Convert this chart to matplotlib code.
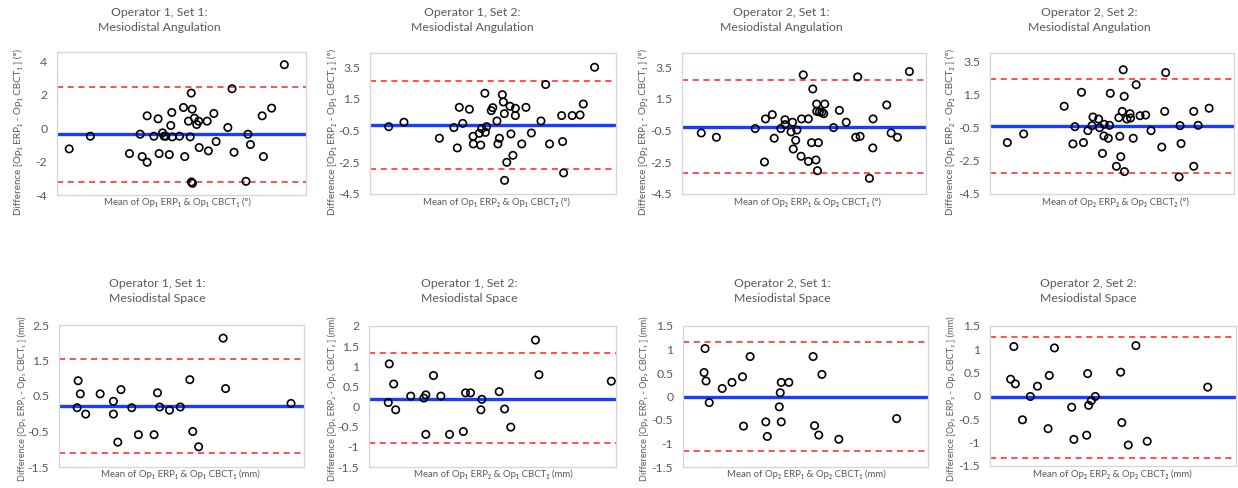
import matplotlib
matplotlib.use("Agg")
import matplotlib.pyplot as plt
from matplotlib.ticker import FuncFormatter

plt.rcParams['font.family'] = ['Lato', 'DejaVu Sans']
plt.rcParams['axes.unicode_minus'] = False

# ---------------- data (x: relative position of the mean, y: difference) ----------------
o1s1_ang_x = [4.9, 13.4, 29.1, 33.4, 34.2, 36.2, 36.2, 38.9, 40.6, 41.0, 42.4, 43.0, 43.7, 45.1, 45.7,
              46.1, 46.3, 49.2, 50.8, 51.3, 52.8, 53.5, 53.9, 54.3, 54.0, 54.4, 55.2, 56.1, 56.9, 57.1,
              60.3, 60.8, 63.0, 63.9, 68.6, 70.3, 71.1, 75.9, 76.7, 77.7, 82.4, 82.9, 86.2, 91.3]
o1s1_ang_y = [-1.24, -0.48, -1.52, -0.36, -1.70, 0.74, -2.04, -0.48, 0.56, -1.52, -0.28, -0.48, -0.48,
              -1.58, 0.16, 0.94, -0.52, -0.48, 1.24, -1.70, 0.42, -0.52, 2.10, 1.14, -3.22, -3.30, 0.60,
              0.22, 0.42, -1.16, 0.42, -1.36, 0.88, -0.80, 0.04, 2.36, -1.44, -3.18, -0.36, -0.98, 0.74,
              -1.70, 1.20, 3.80]
o1s2_ang_x = [7.6, 13.8, 28.2, 34.1, 35.5, 36.3, 37.7, 40.4, 41.9, 42.0, 44.4, 45.0, 45.4, 46.7, 46.9,
              47.4, 49.3, 49.9, 51.6, 52.0, 52.6, 53.8, 54.2, 54.6, 54.7, 55.6, 56.9, 57.3, 58.1, 59.1,
              59.1, 61.7, 63.4, 65.6, 69.5, 71.4, 73.0, 77.9, 78.3, 78.7, 82.2, 85.4, 86.7, 91.3]
o1s2_ang_y = [-0.25, 0.03, -0.98, -0.31, -1.59, 0.97, -0.04, 0.85, -0.86, -1.34, -0.67, -1.41, -0.37,
              1.86, -0.61, -0.25, 0.76, 0.95, 0.11, -1.34, -0.98, 1.77, 1.31, 0.57, -3.64, -2.50, 1.04,
              -0.71, -2.06, 0.91, 0.45, -1.34, 0.97, -0.65, 0.11, 2.41, -1.34, 0.45, -1.19, -3.17, 0.45,
              0.49, 1.18, 3.50]
o2s1_ang_x = [7.9, 14.1, 30.0, 33.8, 34.2, 37.0, 37.8, 40.5, 42.2, 42.2, 44.7, 45.3, 45.6, 46.6, 47.1,
              48.8, 49.0, 49.7, 51.8, 51.8, 53.1, 53.6, 54.9, 55.2, 55.2, 55.5, 55.9, 56.3, 57.3, 58.1,
              58.5, 62.1, 64.5, 67.3, 71.2, 72.0, 73.0, 76.8, 78.2, 78.3, 83.9, 85.7, 88.3, 93.2]
o2s1_ang_y = [-0.65, -0.92, -0.37, -2.48, 0.24, 0.51, -0.98, -0.37, 0.19, -0.12, -0.58, 0.03, -1.66,
              -1.11, -0.46, -2.12, 0.24, 3.02, 0.24, -2.44, -1.26, 2.13, -2.35, 1.18, 0.72, -3.03, -1.26,
              0.68, 0.66, 0.57, 1.18, -0.31, 0.78, 0.03, -0.92, 2.89, -0.86, -3.51, -1.59, 0.24, 1.12,
              -0.65, -0.92, 3.23]
o2s2_ang_x = [7.1, 13.8, 30.4, 34.0, 34.8, 37.5, 38.3, 40.1, 41.8, 42.2, 44.5, 44.9, 46.1, 46.7, 46.8,
              48.5, 49.0, 49.3, 51.8, 52.8, 53.2, 53.6, 54.2, 54.6, 55.0, 55.1, 56.1, 57.4, 57.6, 58.7,
              59.9, 61.5, 63.8, 66.0, 70.4, 71.6, 72.0, 77.5, 77.9, 78.3, 83.5, 83.5, 85.3, 89.8]
o2s2_ang_y = [-1.40, -0.88, 0.79, -1.48, -0.44, 1.63, -1.40, -0.68, -0.38, 0.14, 0.02, -0.50, -2.05,
              -1.00, -0.30, -1.14, -0.36, 1.57, -2.83, 0.10, -1.02, -2.25, 0.48, 2.99, 1.39, -3.15, 0.02,
              0.34, 0.08, -1.14, 2.09, 0.22, 0.26, -0.68, -1.67, 0.48, 2.82, -3.47, -0.38, -1.46, -2.83,
              0.48, -0.36, 0.67]

o1s1_sp_x = [7.4, 7.8, 8.7, 10.9, 16.8, 22.2, 22.2, 24.0, 25.3, 29.7, 32.4, 38.8, 40.2, 41.1, 45.1,
             49.5, 53.4, 54.6, 57.0, 67.0, 68.0, 94.7]
o1s1_sp_y = [0.17, 0.93, 0.56, -0.01, 0.56, 0.35, -0.01, -0.80, 0.68, 0.17, -0.59, -0.59, 0.59, 0.19,
             0.10, 0.19, 0.96, -0.50, -0.93, 2.13, 0.71, 0.29]
o1s2_sp_x = [7.8, 8.2, 10.0, 10.8, 16.9, 22.2, 23.0, 23.0, 26.1, 29.1, 32.6, 38.2, 39.1, 41.1, 45.3,
             45.7, 52.7, 54.9, 57.4, 67.4, 68.8, 98.1]
o1s2_sp_y = [0.10, 1.06, 0.56, -0.08, 0.26, 0.21, 0.29, -0.69, 0.77, 0.26, -0.69, -0.62, 0.34, 0.34,
             -0.08, 0.18, 0.37, -0.06, -0.51, 1.65, 0.79, 0.63]
o2s1_sp_x = [8.6, 9.0, 9.4, 10.7, 16.0, 20.0, 24.3, 24.7, 27.4, 33.8, 34.4, 39.3, 39.7, 40.1, 40.1,
             43.2, 53.1, 53.7, 55.4, 56.7, 63.6, 87.2]
o2s1_sp_y = [0.51, 1.02, 0.33, -0.13, 0.17, 0.30, 0.42, -0.63, 0.85, -0.54, -0.85, -0.22, 0.08, 0.30,
             -0.54, 0.30, 0.85, -0.62, -0.82, 0.47, -0.91, -0.47]
o2s2_sp_x = [8.4, 9.7, 10.3, 13.2, 16.4, 19.3, 23.6, 24.1, 26.2, 33.2, 34.1, 39.3, 39.7, 40.1, 41.2,
             42.8, 53.1, 53.6, 56.2, 59.3, 63.9, 88.5]
o2s2_sp_y = [0.36, 1.06, 0.26, -0.51, -0.01, 0.21, -0.70, 0.44, 1.03, -0.24, -0.93, -0.84, 0.48, -0.20,
             -0.10, -0.01, 0.51, -0.57, -1.05, 1.08, -0.97, 0.19]

# bias (mean difference) and limits of agreement
bias = [-0.34, -0.16, -0.29, -0.42, 0.23, 0.19, -0.01, -0.03]
upper_loa = [2.46, 2.62, 2.68, 2.45, 1.55, 1.33, 1.15, 1.27]
lower_loa = [-3.22, -2.92, -3.19, -3.25, -1.11, -0.91, -1.16, -1.32]

titles = ["Operator 1, Set 1:\nMesiodistal Angulation", "Operator 1, Set 2:\nMesiodistal Angulation",
          "Operator 2, Set 1:\nMesiodistal Angulation", "Operator 2, Set 2:\nMesiodistal Angulation",
          "Operator 1, Set 1:\nMesiodistal Space", "Operator 1, Set 2:\nMesiodistal Space",
          "Operator 2, Set 1:\nMesiodistal Space", "Operator 2, Set 2:\nMesiodistal Space"]
ylabels = ["Difference [Op₁ ERP₁ - Op₁ CBCT₁ ] (°)", "Difference [Op₁ ERP₂ - Op₁ CBCT₂ ] (°)",
           "Difference [Op₂ ERP₁ - Op₂ CBCT₁ ] (°)", "Difference [Op₂ ERP₂ - Op₂ CBCT₂ ] (°)",
           "Difference [Op₁ ERP₁ - Op₁ CBCT₁ ] (mm)", "Difference [Op₁ ERP₂ - Op₁ CBCT₂ ] (mm)",
           "Difference [Op₂ ERP₁ - Op₂ CBCT₁ ] (mm)", "Difference [Op₂ ERP₂ - Op₂ CBCT₂ ] (mm)"]
xlabels = ["Mean of Op₁ ERP₁ & Op₁ CBCT₁ (°)", "Mean of Op₁ ERP₂ & Op₁ CBCT₂ (°)",
           "Mean of Op₂ ERP₁ & Op₂ CBCT₁ (°)", "Mean of Op₂ ERP₂ & Op₂ CBCT₂ (°)",
           "Mean of Op₁ ERP₁ & Op₁ CBCT₁ (mm)", "Mean of Op₁ ERP₂ & Op₁ CBCT₂ (mm)",
           "Mean of Op₂ ERP₁ & Op₂ CBCT₁ (mm)", "Mean of Op₂ ERP₂ & Op₂ CBCT₂ (mm)"]
yticks = [[-4, -2, 0, 2, 4],
          [-4.5, -2.5, -0.5, 1.5, 3.5],
          [-4.5, -2.5, -0.5, 1.5, 3.5],
          [-4.5, -2.5, -0.5, 1.5, 3.5],
          [-1.5, -0.5, 0.5, 1.5, 2.5],
          [-1.5, -1, -0.5, 0, 0.5, 1, 1.5, 2],
          [-1.5, -1, -0.5, 0, 0.5, 1, 1.5],
          [-1.5, -1, -0.5, 0, 0.5, 1, 1.5]]

xs = [o1s1_ang_x, o1s2_ang_x, o2s1_ang_x, o2s2_ang_x, o1s1_sp_x, o1s2_sp_x, o2s1_sp_x, o2s2_sp_x]
ys = [o1s1_ang_y, o1s2_ang_y, o2s1_ang_y, o2s2_ang_y, o1s1_sp_y, o1s2_sp_y, o2s1_sp_y, o2s2_sp_y]

# ---------------- layout (pixels) ----------------
W, H = 1238, 488
boxes = [(57, 52, 306, 195), (370, 53, 616, 194), (682, 53, 926, 194), (990, 53, 1234, 194),
         (59, 325, 304, 467), (369, 326, 616, 467), (683, 326, 928, 467), (990, 326, 1236, 466)]
ylims = [(-4, 4.56), (-4.5, 4.4), (-4.5, 4.4), (-4.5, 4.0),
         (-1.5, 2.5), (-1.5, 2.0), (-1.5, 1.5), (-1.5, 1.5)]
title_pos = [(159, 20), (472, 20), (781, 20), (1089, 20),
             (157, 291), (469, 291), (782, 291), (1088, 291)]
xlabel_pos = [(177, 202), (496, 202), (807, 202), (1115, 202),
              (180, 474), (493, 474), (806, 474), (1112, 474)]
ylabel_pos = [(18, 132), (332, 132), (643, 132), (950, 132),
              (22, 399), (332, 399), (644, 399), (951, 399)]
ylabel_size = [7.1, 7.1, 7.1, 7.1, 6.6, 6.6, 6.6, 6.6]

txt = '#595959'
fig = plt.figure(figsize=(W / 100, H / 100), dpi=100)

fmt = FuncFormatter(lambda v, p: f"{v:g}")
for i in range(8):
    l, t, r, b = boxes[i]
    ax = fig.add_axes([l / W, 1 - b / H, (r - l) / W, (b - t) / H])
    ax.scatter(xs[i], ys[i], s=28, facecolors='none', edgecolors='black', linewidths=1.2, zorder=3)
    ax.axhline(bias[i], color='#1a3cff', lw=2.4, zorder=2)
    ax.axhline(upper_loa[i], color='#ff2020', lw=1.1, ls=(0, (4, 3)), zorder=2)
    ax.axhline(lower_loa[i], color='#ff2020', lw=1.1, ls=(0, (4, 3)), zorder=2)
    ax.set_xlim(0, 100)
    ax.set_ylim(*ylims[i])
    ax.set_xticks([])
    ax.set_yticks(yticks[i])
    ax.yaxis.set_major_formatter(fmt)
    ax.tick_params(axis='y', length=0, pad=7, labelsize=8.8, labelcolor=txt)
    for s in ax.spines.values():
        s.set_color('#d4d4d4')
        s.set_linewidth(0.9)
    tx, ty = title_pos[i]
    fig.text(tx / W, 1 - ty / H, titles[i], ha='center', va='center', fontsize=8.8,
             color=txt, linespacing=1.35)
    xx, xy = xlabel_pos[i]
    fig.text(xx / W, 1 - xy / H, xlabels[i], ha='center', va='center', fontsize=6.9, color=txt)
    lx, ly = ylabel_pos[i]
    fig.text(lx / W, 1 - ly / H, ylabels[i], ha='center', va='center', rotation=90,
             fontsize=ylabel_size[i], color=txt)

fig.savefig('out.png', dpi=100, facecolor='white')
